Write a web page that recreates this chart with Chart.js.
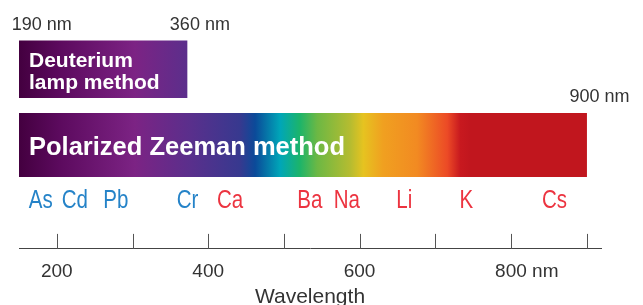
<!DOCTYPE html>
<html>
<head>
<meta charset="utf-8">
<script src="https://cdn.jsdelivr.net/npm/chart.js@4/dist/chart.umd.min.js"></script>
<style>
  html, body { margin: 0; padding: 0; background: #fff; }
  #wrap { width: 643px; height: 305px; }
</style>
</head>
<body>
<div id="wrap"><canvas id="spectrum"></canvas></div>
<script>
// rows of the chart, wavelength span as drawn (nm)
const methods = ["Deuterium lamp method", "Polarized Zeeman method"];
const methodLines = [["Deuterium", "lamp method"], ["Polarized Zeeman method"]];
const methodRanges = [[150, 372], [150, 900]];

// range labels written above the bars
const rangeLabels = ["190 nm", "360 nm", "900 nm"];
const rangeLabelAt = [180, 389, 917];
const rangeLabelRow = [0, 0, 1];

// elements under the Zeeman bar (blue = also in deuterium range)
const elements = ["As", "Cd", "Pb", "Cr", "Ca", "Ba", "Na", "Li", "K", "Cs"];
const elementAt = [178.7, 223.7, 278, 372.6, 428.8, 534.3, 583.2, 659, 741.1, 857.6];
const elementInDeuterium = [true, true, true, true, false, false, false, false, false, false];

// axis
const tickValues = [200, 300, 400, 500, 600, 700, 800, 900];
const tickLabels = ["200", "", "400", "", "600", "", "800", ""];
const tickUnit = "nm";
const axisTitle = "Wavelength";

const BAR_SIZE = [56.6, 63.3];
const LABEL_FONT = [21, 25.5];
const BLUE = "#2583c8";
const RED = "#ec3440";
const TEXT = "#333333";
const FAMILY = '"Liberation Sans", Arial, sans-serif';

// colour stops of the spectrum band (nm, colour)
const SPECTRUM = [
    [151, "#440040"], [204, "#5c0a5e"], [303, "#7c2384"], [376, "#5a2f8c"],
    [442, "#37398f"], [462, "#0b4a99"], [495, "#00a6b8"], [521, "#1cb46a"],
    [544, "#6cb844"], [588, "#b6bc30"], [605, "#e6c320"], [631, "#f0a020"],
    [676, "#f28a22"], [716, "#ec4a26"], [733, "#c8191f"], [746, "#c1161e"],
];

function spectrumFill(context) {
    const chart = context.chart;
    const x = chart.scales.x;
    if (!chart.chartArea || !x) return "#7c2384";
    const x0 = x.getPixelForValue(150);
    const x1 = x.getPixelForValue(900);
    const g = chart.ctx.createLinearGradient(x0, 0, x1, 0);
    SPECTRUM.forEach(([nm, c]) => g.addColorStop(Math.min(1, Math.max(0, (nm - 150) / 750)), c));
    return g;
}

const labelsPlugin = {
    id: "spectrumLabels",
    afterDatasetsDraw(chart) {
        const { ctx } = chart;
        const x = chart.scales.x;
        const area = chart.chartArea;
        const bars = methods.map((_, i) => chart.getDatasetMeta(i).data[0]);

        ctx.save();

        // text inside the bars
        ctx.fillStyle = "#ffffff";
        ctx.textAlign = "left";
        ctx.textBaseline = "alphabetic";
        bars.forEach((bar, i) => {
            const lines = methodLines[i];
            ctx.font = `bold ${LABEL_FONT[i]}px ${FAMILY}`;
            let y = bar.y + 9.8 - (lines.length - 1) * 12.5;
            lines.forEach((line) => {
                ctx.fillText(line, bar.base + 10, y);
                y += 22.3;
            });
        });

        // range labels above the bars
        ctx.fillStyle = TEXT;
        ctx.textAlign = "center";
        ctx.font = `18px ${FAMILY}`;
        rangeLabels.forEach((t, i) => {
            const bar = bars[rangeLabelRow[i]];
            ctx.fillText(t, x.getPixelForValue(rangeLabelAt[i]), bar.y - bar.height / 2 - 11.4);
        });

        // element symbols under the Zeeman bar, narrow type
        const zeeman = bars[1];
        const ey = zeeman.y + zeeman.height / 2 + 31;
        ctx.font = `25px ${FAMILY}`;
        elements.forEach((el, i) => {
            ctx.save();
            ctx.translate(x.getPixelForValue(elementAt[i]), ey);
            ctx.scale(0.82, 1);
            ctx.fillStyle = elementInDeuterium[i] ? BLUE : RED;
            ctx.fillText(el, 0, 0);
            ctx.restore();
        });

        // tick marks pointing up from the axis line
        ctx.strokeStyle = "#555555";
        ctx.lineWidth = 1;
        tickValues.forEach((v) => {
            const px = Math.round(x.getPixelForValue(v)) + 0.5;
            ctx.beginPath();
            ctx.moveTo(px, area.bottom);
            ctx.lineTo(px, area.bottom - 15);
            ctx.stroke();
        });

        // unit after the last labelled tick
        const lastIdx = tickLabels.map((t) => t !== "").lastIndexOf(true);
        const item = x._labelItems && x._labelItems[lastIdx];
        if (item) {
            ctx.font = item.font.string;
            const numW = ctx.measureText(tickLabels[lastIdx]).width;
            ctx.textAlign = "left";
            ctx.textBaseline = item.options.textBaseline;
            ctx.fillStyle = TEXT;
            ctx.fillText(" " + tickUnit, item.options.translation[0] + numW / 2,
                item.options.translation[1] + item.textOffset);
        }

        ctx.restore();
    },
};

new Chart(document.getElementById("spectrum"), {
    type: "bar",
    data: {
        datasets: methods.map((name, i) => ({
            label: name,
            data: [{ x: methodRanges[i], y: i }],
            backgroundColor: spectrumFill,
            borderWidth: 0,
            borderSkipped: false,
            barThickness: BAR_SIZE[i],
            maxBarThickness: BAR_SIZE[i],
            grouped: false,
        })),
    },
    options: {
        indexAxis: "y",
        responsive: true,
        maintainAspectRatio: false,
        animation: false,
        layout: { padding: { left: 19, right: 42, top: 0, bottom: 5 } },
        plugins: { legend: { display: false }, tooltip: { enabled: false } },
        scales: {
            y: {
                type: "linear",
                display: false,
                reverse: true,
                offset: false,
                min: -0.914,
                max: 2.371,
                afterBuildTicks: (s) => { s.ticks = methods.map((_, i) => ({ value: i })); },
            },
            x: {
                type: "linear",
                position: "bottom",
                min: 150,
                max: 919,
                border: { display: true, color: "#444444", width: 1 },
                grid: { drawOnChartArea: false, drawTicks: false },
                afterBuildTicks: (s) => { s.ticks = tickValues.map((v) => ({ value: v })); },
                ticks: {
                    autoSkip: false,
                    maxRotation: 0,
                    padding: 11,
                    color: TEXT,
                    font: { size: 19, family: FAMILY },
                    callback: (v) => tickLabels[tickValues.indexOf(v)] || "",
                },
                title: {
                    display: true,
                    text: axisTitle,
                    color: TEXT,
                    padding: { top: 0, bottom: 0 },
                    font: { size: 21, family: FAMILY, lineHeight: 0.3 },
                },
            },
        },
    },
    plugins: [labelsPlugin],
});
</script>
</body>
</html>
